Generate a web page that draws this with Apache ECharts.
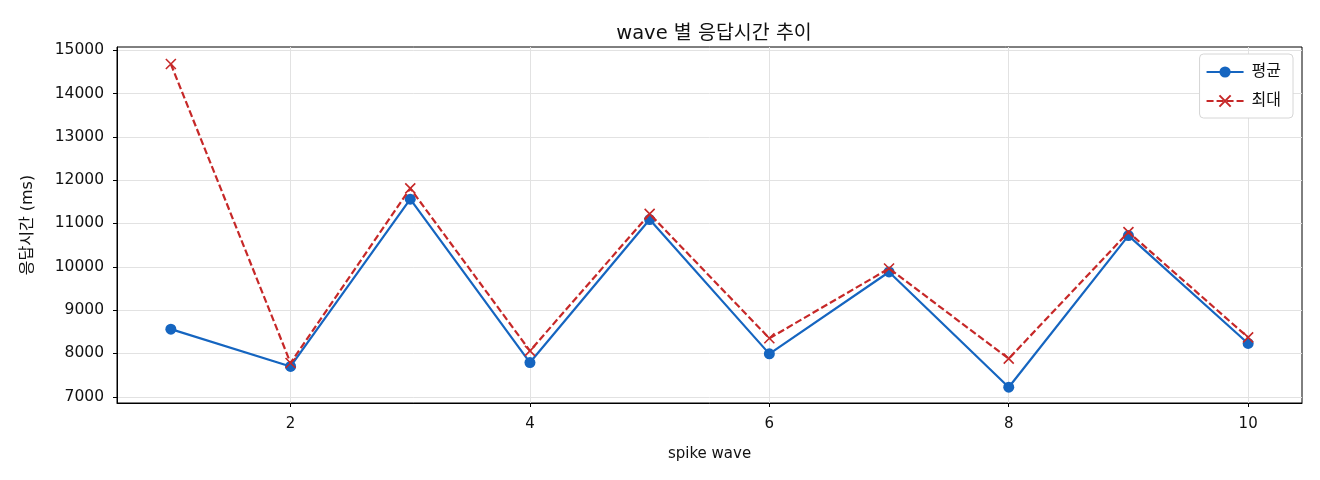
<!DOCTYPE html>
<html><head><meta charset="utf-8">
<script src="https://cdn.jsdelivr.net/npm/echarts@6/dist/echarts.min.js"></script>
<style>html,body{margin:0;padding:0;background:#fff}#c{width:1320px;height:480px}</style>
</head><body><div id="c"></div>
<script>
const waves = [1,2,3,4,5,6,7,8,9,10];
const avgValues = [8560,7700,11560,7790,11090,7990,9880,7220,10720,8230];
const maxValues = [14680,7780,11810,8060,11220,8350,9960,7880,10800,8370];
const xTicks = [2,4,6,8,10];
const yTicks = [7000,8000,9000,10000,11000,12000,13000,14000,15000];

const FONT = '"DejaVu Sans", "Noto Sans CJK KR", sans-serif';
const BLUE = '#1565C0', RED = '#C62828';
const xPath = 'path://M0,0 L10,10 M10,0 L0,10';

const chart = echarts.init(document.getElementById('c'), null, {renderer:'canvas'});
chart.setOption({
  animation:false,
  backgroundColor:'#fff',
  textStyle:{fontFamily:FONT},
  title:{text:'wave 별 응답시간 추이', left:709, textAlign:'center', top:19,
    textStyle:{fontFamily:FONT, fontSize:19.5, fontWeight:'normal', color:'#111'}},
  grid:{left:117, right:18, top:47, bottom:77, show:true, borderColor:'#000', borderWidth:1, backgroundColor:'transparent'},
  legend:{orient:'vertical', right:27, top:54, padding:[10,12,9,6], itemGap:13,
    itemWidth:37, itemHeight:14, backgroundColor:'#fff', borderColor:'#d6d6d6', borderWidth:1, borderRadius:4,
    textStyle:{fontFamily:FONT, fontSize:16, color:'#111', padding:[0,0,0,3]},
    data:['평균','최대']},
  xAxis:{type:'value', min:0.55, max:10.45,
    name:'spike wave', nameLocation:'middle', nameGap:44,
    nameTextStyle:{fontFamily:FONT, fontSize:15, color:'#111'},
    axisLine:{show:true, lineStyle:{color:'#000'}},
    axisTick:{show:true, length:4, customValues:xTicks, lineStyle:{color:'#000'}},
    axisLabel:{customValues:xTicks, fontFamily:FONT, fontSize:15, color:'#111', margin:14},
    splitLine:{show:true, lineStyle:{color:'#e2e2e2', width:1}}},
  yAxis:{type:'value', min:6856, max:15073,
    name:'응답시간 (ms)', nameLocation:'middle', nameGap:81, nameRotate:90,
    nameTextStyle:{fontFamily:FONT, fontSize:16, color:'#111'},
    axisLine:{show:true, lineStyle:{color:'#000'}},
    axisTick:{show:true, length:4, customValues:yTicks, lineStyle:{color:'#000'}},
    axisLabel:{customValues:yTicks, fontFamily:FONT, fontSize:15.5, color:'#111', margin:13,
      formatter:v=>String(v)},
    splitLine:{show:true, lineStyle:{color:'#e2e2e2', width:1}}},
  series:[
    {name:'평균', type:'line', data:waves.map((w,i)=>[w,avgValues[i]]),
      symbol:'circle', symbolSize:11, showAllSymbol:true,
      lineStyle:{color:BLUE, width:2.2}, itemStyle:{color:BLUE}, z:2},
    {name:'최대', type:'line', data:waves.map((w,i)=>[w,maxValues[i]]),
      symbol:xPath, symbolSize:10, showAllSymbol:true,
      lineStyle:{color:RED, width:2.2, type:[7,3]},
      itemStyle:{color:RED, borderColor:RED, borderWidth:1.6}, z:3}
  ]
});
</script></body></html>
